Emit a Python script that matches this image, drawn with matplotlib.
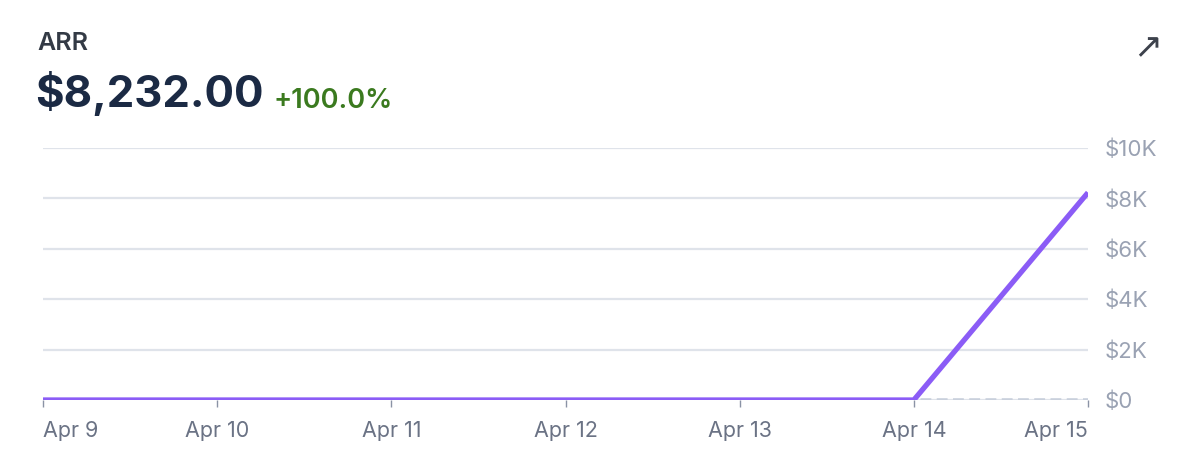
import matplotlib.pyplot as plt
import matplotlib.ticker as mticker
import numpy as np

# data
days = ['Apr 9', 'Apr 10', 'Apr 11', 'Apr 12', 'Apr 13', 'Apr 14', 'Apr 15']
arr_values = [0, 0, 0, 0, 0, 0, 8232]
prev_values = [0, 0, 0, 0, 0, 0, 0]
y_ticks = [0, 2000, 4000, 6000, 8000, 10000]
title = 'ARR'
headline = '$8,232.00'
change = '+100.0%'

plt.rcParams['font.family'] = ['Inter', 'DejaVu Sans']

fig = plt.figure(figsize=(12, 4.72), dpi=100)
ax = fig.add_axes([43 / 1200, 72 / 472, 1045 / 1200, 252 / 472])

x = np.arange(len(days))
ax.plot(x, prev_values, color='#c9d0dc', lw=2.6, ls=(0, (3, 1.5)), zorder=2)
ax.plot(x, arr_values, color='#8b5cf6', lw=3.8, solid_capstyle='butt', zorder=3)

ax.set_xlim(0, len(days) - 1)
ax.set_ylim(0, 10000)
ax.set_xticks(x)
ax.set_xticklabels(days)
ax.set_yticks(y_ticks)
ax.yaxis.set_major_formatter(mticker.FuncFormatter(
    lambda v, p: '$0' if v == 0 else f'${int(v / 1000)}K'))
ax.yaxis.tick_right()

for s in ax.spines.values():
    s.set_visible(False)
ax.grid(axis='y', color='#dfe3ea', lw=1.6)
ax.set_axisbelow(True)
ax.tick_params(axis='x', colors='#8a93a5', labelcolor='#6b7385', labelsize=15.5,
               length=5, width=1, pad=10, direction='out')
ax.tick_params(axis='y', length=0, pad=12, labelcolor='#9aa2b3', labelsize=16)
for lbl in ax.get_yticklabels():
    lbl.set_horizontalalignment('left')
xlabels = ax.get_xticklabels()
xlabels[0].set_horizontalalignment('left')
xlabels[-1].set_horizontalalignment('right')

fig.text(37 / 1200, 1 - 44 / 472, title, fontsize=18, color='#333a45',
         fontweight='semibold', va='center')
fig.text(35 / 1200, 1 - 94 / 472, headline, fontsize=31.5, color='#1b2a44',
         fontweight='bold', va='center')
fig.text(274 / 1200, 1 - 101 / 472, change, fontsize=19.5, color='#3b7a1f',
         fontweight='semibold', va='center')
fig.text(1148 / 1200, 1 - 48 / 472, '\u2197', fontsize=25, color='#3d424c',
         ha='center', va='center', family='DejaVu Sans')

fig.savefig('out.png', dpi=100, facecolor='white')
